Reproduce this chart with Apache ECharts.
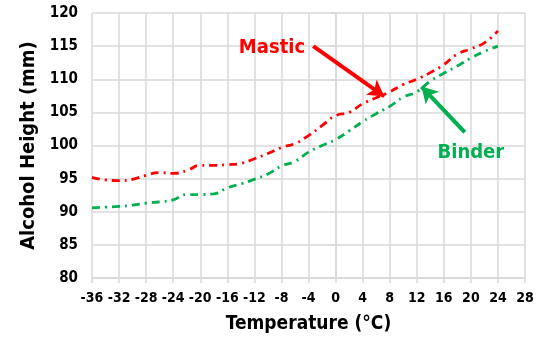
<!DOCTYPE html>
<html><head><meta charset="utf-8">
<script src="https://cdn.jsdelivr.net/npm/echarts@6/dist/echarts.min.js"></script>
<style>html,body{margin:0;padding:0;background:#fff}#c{width:542px;height:341px}</style>
</head><body><div id="c"></div>
<script>
const temps = [-36,-34,-32,-30,-28,-26,-24,-22,-20,-18,-16,-14,-12,-10,-8,-6,-4,-2,0,2,4,6,8,10,12,14,16,18,20,22,24];
const mastic = [95.2,94.8,94.7,94.9,95.5,95.9,95.8,96.2,97.0,97.0,97.1,97.3,98.0,98.8,99.7,100.3,101.5,103.0,104.5,105.0,106.3,107.2,108.1,109.2,110.0,111.0,112.2,113.8,114.6,115.5,117.3];
const binder = [90.6,90.7,90.8,91.0,91.3,91.5,91.8,92.6,92.6,92.7,93.6,94.2,94.9,95.7,96.9,97.6,99.0,100.0,100.9,102.2,103.6,104.8,105.9,107.3,108.1,109.7,110.9,112.0,113.2,114.2,115.0];
const xTicks = {min:-36, max:28, step:4};
const yTicks = {min:80, max:120, step:5};
const FONT = '"DejaVu Sans Condensed", sans-serif';
const RED = '#ff0000', GREEN = '#00b050';
const chart = echarts.init(document.getElementById('c'));
const gridLine = {show:true, lineStyle:{color:'#d9d9d9', width:1.5}};
chart.setOption({
  animation:false,
  grid:{left:92, right:17, top:13, bottom:63},
  xAxis:{type:'value', min:xTicks.min, max:xTicks.max, interval:xTicks.step,
    name:'Temperature (°C)', nameLocation:'middle', nameGap:37,
    nameTextStyle:{fontFamily:FONT, fontWeight:'bold', fontSize:19, color:'#000'},
    axisLine:{lineStyle:{color:'#d9d9d9', width:1.5}}, axisTick:{show:true, length:5, lineStyle:{color:'#d9d9d9', width:1.5}},
    axisLabel:{fontFamily:FONT, fontWeight:'bold', fontSize:14, color:'#000', margin:13},
    splitLine:gridLine},
  yAxis:{type:'value', min:yTicks.min, max:yTicks.max, interval:yTicks.step,
    name:'Alcohol Height (mm)', nameLocation:'middle', nameGap:50,
    nameTextStyle:{fontFamily:FONT, fontWeight:'bold', fontSize:20, color:'#000'},
    axisLine:{show:true, lineStyle:{color:'#d9d9d9', width:1.5}}, axisTick:{show:true, length:5, lineStyle:{color:'#d9d9d9', width:1.5}},
    axisLabel:{fontFamily:FONT, fontWeight:'bold', fontSize:15, color:'#000', margin:14},
    splitLine:gridLine},
  series:[
    {type:'line', name:'Mastic', data:temps.map((t,i)=>[t,mastic[i]]), showSymbol:false, smooth:true,
     lineStyle:{color:RED, width:2.8, type:[8,5,2,5]},
     markLine:{silent:true, symbol:['none','arrow'], symbolSize:[14,16], label:{show:false},
       lineStyle:{color:RED, width:4, type:'solid'},
       data:[[{coord:[-3.3,115.0]},{coord:[7.2,107.4]}]]},
     markPoint:{symbol:'circle', symbolSize:0, data:[{coord:[-9.4,114.7], label:{show:true, formatter:'Mastic', color:RED, fontFamily:FONT, fontWeight:'bold', fontSize:20}}]}},
    {type:'line', name:'Binder', data:temps.map((t,i)=>[t,binder[i]]), showSymbol:false, smooth:true,
     lineStyle:{color:GREEN, width:2.8, type:[8,5,2,5]},
     markLine:{silent:true, symbol:['none','arrow'], symbolSize:[14,16], label:{show:false},
       lineStyle:{color:GREEN, width:4, type:'solid'},
       data:[[{coord:[19.1,102.0]},{coord:[12.7,108.9]}]]},
     markPoint:{symbol:'circle', symbolSize:0, data:[{coord:[20.0,98.9], label:{show:true, formatter:'Binder', color:GREEN, fontFamily:FONT, fontWeight:'bold', fontSize:20}}]}}
  ]
});
</script></body></html>
